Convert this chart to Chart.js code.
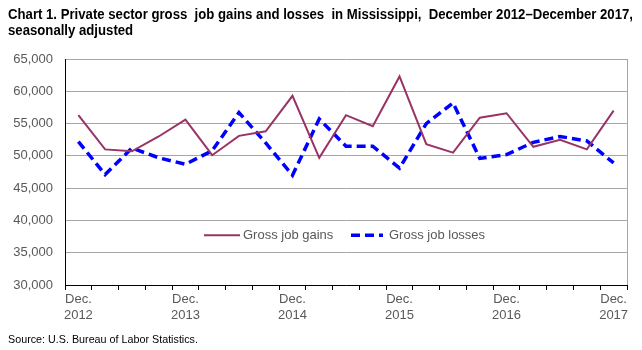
<!DOCTYPE html>
<html>
<head>
<meta charset="utf-8">
<script src="https://cdn.jsdelivr.net/npm/chart.js@4.4.1/dist/chart.umd.min.js"></script>
<style>
  html, body { margin: 0; padding: 0; background: #fff; }
  #wrap { position: relative; width: 642px; height: 350px; overflow: hidden; }
  .narrow { position: absolute; left: 8px; white-space: nowrap; transform-origin: 0 0; font-family: "Liberation Sans", Arial, sans-serif; color: #000; }
  #title1, #title2 { font-weight: bold; font-size: 14px; line-height: 16px; }
  #title1 { top: 6px; }
  #title2 { top: 22px; }
  #source { top: 333px; font-size: 11.5px; }
  canvas { position: absolute; left: 0; top: 0; }
</style>
</head>
<body>
<div id="wrap">
  <canvas id="c" width="642" height="350"></canvas>
  <div id="title1" class="narrow">Chart 1. Private sector gross&nbsp; job gains and losses&nbsp; in Mississippi,&nbsp; December 2012–December 2017,</div>
  <div id="title2" class="narrow">seasonally adjusted</div>
  <div id="source" class="narrow">Source: U.S. Bureau of Labor Statistics.</div>
</div>
<script>
// Quarterly periods, December 2012 – December 2017
const categories = [
  "Dec 2012","Mar 2013","Jun 2013","Sep 2013",
  "Dec 2013","Mar 2014","Jun 2014","Sep 2014",
  "Dec 2014","Mar 2015","Jun 2015","Sep 2015",
  "Dec 2015","Mar 2016","Jun 2016","Sep 2016",
  "Dec 2016","Mar 2017","Jun 2017","Sep 2017",
  "Dec 2017"
];
const grossJobGains = [
  56300, 51000, 50700, 53000,
  55600, 50100, 53100, 53800,
  59300, 49700, 56300, 54600,
  62300, 51800, 50500, 55900,
  56600, 51400, 52500, 51000,
  57000
];
const grossJobLosses = [
  52200, 47100, 51200, 49700,
  48700, 50800, 56700, 52000,
  47000, 55700, 51500, 51500,
  48100, 55000, 58200, 49600,
  50200, 52100, 53000, 52300,
  48900
];
const xTickLabels = ["Dec.|2012","","","","Dec.|2013","","","","Dec.|2014","","","","Dec.|2015","","","","Dec.|2016","","","","Dec.|2017"];
const yTicks = { min: 30000, max: 65000, step: 5000 };
const seriesNames = ["Gross job gains", "Gross job losses"];

// condense title/source text to the narrow look of the original
function condense(id, targetWidth) {
  const el = document.getElementById(id);
  const w = el.getBoundingClientRect().width;
  el.style.transform = 'scaleX(' + (targetWidth / w) + ')';
}
condense('title1', 625);
condense('source', 190);
(function(){
  const t1 = document.getElementById('title1');
  document.getElementById('title2').style.transform = t1.style.transform;
})();

const FONT = '"Liberation Sans", Arial, sans-serif';
const GAIN_COLOR = '#993366';
const LOSS_COLOR = '#0000FF';
const TEXT_GRAY = '#595959';

const frame = {
  id: 'frame',
  afterDraw(chart) {
    const { ctx, chartArea: a } = chart;
    ctx.save();
    ctx.strokeStyle = '#A6A6A6';
    ctx.lineWidth = 1;
    ctx.beginPath();
    ctx.moveTo(Math.round(a.right) + 0.5, a.top);
    ctx.lineTo(Math.round(a.right) + 0.5, a.bottom);
    ctx.stroke();
    ctx.restore();
  }
};

const insideLegend = {
  id: 'insideLegend',
  afterDatasetsDraw(chart) {
    const { ctx } = chart;
    const y = chart.scales.y.getPixelForValue(37700);
    const items = [
      { x: 204, w: 36, tx: 243, ds: chart.data.datasets[0] },
      { x: 351, w: 32, tx: 389, ds: chart.data.datasets[1] }
    ];
    ctx.save();
    ctx.font = '13px ' + FONT;
    ctx.textBaseline = 'middle';
    ctx.fillStyle = TEXT_GRAY;
    items.forEach(it => {
      ctx.beginPath();
      ctx.strokeStyle = it.ds.borderColor;
      ctx.lineWidth = it.ds.borderWidth;
      ctx.setLineDash(it.ds.borderDash || []);
      ctx.moveTo(it.x, y);
      ctx.lineTo(it.x + it.w, y);
      ctx.stroke();
      ctx.setLineDash([]);
      ctx.fillText(it.ds.label, it.tx, y);
    });
    ctx.restore();
  }
};

new Chart(document.getElementById('c'), {
  type: 'line',
  data: {
    labels: categories,
    datasets: [
      { label: seriesNames[0], data: grossJobGains, borderColor: GAIN_COLOR, backgroundColor: GAIN_COLOR,
        borderWidth: 2, pointRadius: 0, tension: 0, fill: false },
      { label: seriesNames[1], data: grossJobLosses, borderColor: LOSS_COLOR, backgroundColor: LOSS_COLOR,
        borderWidth: 3.5, borderDash: [9, 5], pointRadius: 0, tension: 0, fill: false }
    ]
  },
  options: {
    responsive: false,
    animation: false,
    devicePixelRatio: 1,
    layout: { padding: { left: 0, right: 15, top: 59, bottom: 0 } },
    plugins: { legend: { display: false }, tooltip: { enabled: false }, title: { display: false } },
    scales: {
      x: {
        offset: true,
        grid: { display: true, drawOnChartArea: false, drawTicks: true, tickLength: 5, offset: true, color: '#000' },
        border: { display: true, color: '#000', width: 1 },
        ticks: {
          autoSkip: false, maxRotation: 0, minRotation: 0, padding: 1,
          color: TEXT_GRAY, font: { family: FONT, size: 13, lineHeight: 1.25 },
          callback: (v, i) => xTickLabels[i] ? xTickLabels[i].split('|') : ''
        },
        afterFit(s) { s.height = 65; }
      },
      y: {
        min: yTicks.min, max: yTicks.max,
        grid: { color: '#A6A6A6', drawTicks: false, lineWidth: 1 },
        border: { display: true, color: '#000', width: 1 },
        ticks: {
          stepSize: yTicks.step, padding: 12, color: TEXT_GRAY,
          font: { family: FONT, size: 13 },
          callback: v => v.toLocaleString('en-US')
        },
        afterFit(s) { s.width = 65; }
      }
    }
  },
  plugins: [frame, insideLegend]
});
</script>
</body>
</html>
